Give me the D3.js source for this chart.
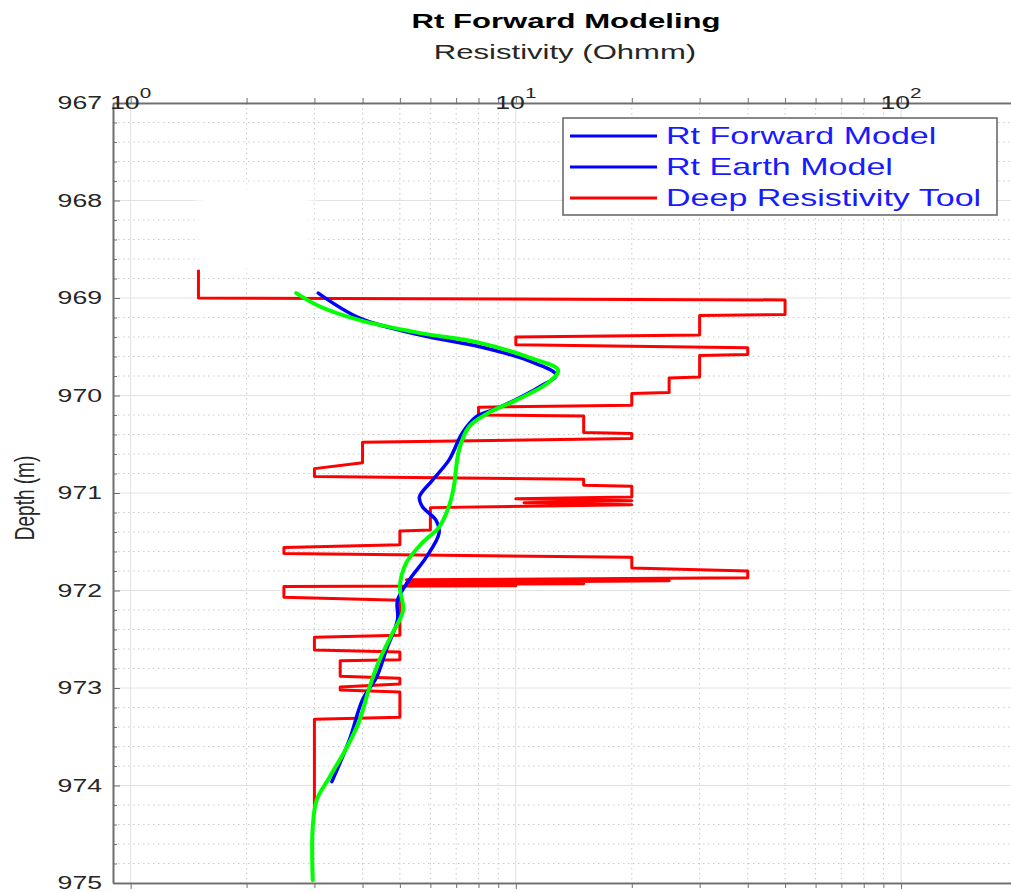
<!DOCTYPE html>
<html>
<head>
<meta charset="utf-8">
<script src="https://cdn.jsdelivr.net/npm/d3@7"></script>
<style>
  body { margin: 0; background: #fff; }
  text { font-family: "Liberation Sans", Arial, sans-serif; }
</style>
</head>
<body>
<svg id="chart" width="1011" height="892"></svg>
<script>
// axis ticks
const depthTicks = [967, 968, 969, 970, 971, 972, 973, 974, 975];
const decadeExps = [0, 1, 2];

// Rt Forward Model (green)
const fwdDepth = [968.95, 969.09, 969.23, 969.36, 969.46, 969.62, 969.74, 969.87, 970.05, 970.18, 970.32, 970.56, 970.94, 971.14, 971.35, 971.51, 971.72, 971.96, 972.20, 972.44, 972.71, 972.99, 973.33, 973.61, 973.91, 974.15, 974.43, 974.70, 974.97];
const fwdRt    = [2.69, 3.11, 3.95, 5.65, 8.07, 11.0, 12.88, 12.13, 10.0, 8.47, 7.56, 7.12, 6.9, 6.7, 6.32, 5.72, 5.19, 5.0, 5.1, 4.78, 4.43, 4.17, 3.93, 3.64, 3.29, 3.04, 2.97, 2.96, 2.97];

// Rt Earth Model (blue)
const earthDepth = [968.95, 969.21, 969.38, 969.50, 969.64, 969.79, 969.91, 970.12, 970.22, 970.39, 970.66, 970.87, 971.04, 971.14, 971.28, 971.41, 971.66, 971.89, 972.10, 972.30, 972.61, 972.89, 973.12, 973.53, 973.96];
const earthRt    = [3.07, 3.95, 5.65, 8.07, 10.74, 12.72, 11.53, 9.09, 7.88, 7.25, 6.71, 6.07, 5.62, 5.72, 6.21, 6.32, 5.85, 5.29, 4.93, 4.93, 4.61, 4.35, 4.0, 3.70, 3.33];

// Deep Resistivity Tool (red, stepped log)
const toolDepth = [968.71, 969.0, 969.02, 969.17, 969.18, 969.38, 969.40, 969.48, 969.51, 969.58, 969.59, 969.81, 969.82, 969.97, 969.98, 970.10, 970.12, 970.20, 970.21, 970.38, 970.39, 970.44, 970.48, 970.69, 970.75, 970.83, 970.86, 970.92, 970.93, 971.04, 971.06, 971.08, 971.10, 971.12, 971.15, 971.38, 971.39, 971.53, 971.56, 971.62, 971.66, 971.77, 971.80, 971.87, 971.89, 971.90, 971.92, 971.93, 971.94, 971.95, 971.96, 972.07, 972.10, 972.46, 972.48, 972.61, 972.63, 972.71, 972.72, 972.88, 972.90, 972.96, 972.99, 973.02, 973.04, 973.30, 973.32, 974.22];
const toolRt    = [1.5, 1.5, 50, 50, 30, 30, 10, 10, 40, 40, 30, 30, 25, 25, 20, 20, 8, 8, 15, 15, 20, 20, 4, 4, 3, 3, 15, 15, 20, 20, 10, 20, 10.5, 20, 6, 6, 5, 5, 2.5, 2.5, 20, 20, 40, 40, 5.2, 25, 5.2, 15, 5.2, 10, 2.5, 2.5, 5, 5, 3, 3, 5, 5, 3.5, 3.5, 5, 5, 3.5, 3.5, 5, 5, 3, 3];

const legendNames = ["Rt Forward Model", "Rt Earth Model", "Deep Resistivity Tool"];
const legendColors = ["#0000ff", "#0000ff", "#ff0000"];

const SX = 1.48; // the picture is stretched horizontally
const svg = d3.select("#chart");
const pLeft = 113, pRight = 1017, pTop = 103, pBottom = 883;

const x = d3.scaleLog().domain([0.9, 200]).range([pLeft, pRight]);
const y = d3.scaleLinear().domain([967, 975]).range([pTop, pBottom]);

function stext(g, tx, ty, str, size, anchor) {
  return g.append("text")
    .attr("transform", `translate(${tx},${ty}) scale(${SX},1)`)
    .attr("text-anchor", anchor || "middle")
    .attr("font-size", size)
    .attr("fill", "#262626")
    .text(str);
}

// Titles
stext(svg, 566, 28, "Rt Forward Modeling", 21).attr("font-weight", "bold").attr("fill", "#000");
stext(svg, 565, 59, "Resistivity (Ohmm)", 21);

// Grid
const minorX = [];
[1, 10, 100].forEach(d => { for (let k = 2; k <= 9; k++) if (d * k < 200) minorX.push(d * k); });
const minorY = [];
for (let d = 967; d < 975; d++) for (let k = 1; k <= 4; k++) minorY.push(+(d + k * 0.2).toFixed(1));

const grid = svg.append("g");
grid.selectAll(".mx").data(minorX).enter().append("line")
  .attr("x1", d => x(d)).attr("x2", d => x(d)).attr("y1", pTop).attr("y2", pBottom)
  .attr("stroke", "#c9c9c9").attr("stroke-dasharray", "1.5,3.5");
grid.selectAll(".my").data(minorY).enter().append("line")
  .attr("x1", pLeft).attr("x2", pRight).attr("y1", d => y(d)).attr("y2", d => y(d))
  .attr("stroke", "#c9c9c9").attr("stroke-dasharray", "1.5,3.5");
grid.selectAll(".Mx").data(decadeExps).enter().append("line")
  .attr("x1", d => x(Math.pow(10, d))).attr("x2", d => x(Math.pow(10, d)))
  .attr("y1", pTop).attr("y2", pBottom).attr("stroke", "#e2e2e2");
grid.selectAll(".My").data(depthTicks).enter().append("line")
  .attr("x1", pLeft).attr("x2", pRight).attr("y1", d => y(d)).attr("y2", d => y(d))
  .attr("stroke", "#e2e2e2");

// faded patch where the grid is missing in the source image
svg.append("defs").append("filter").attr("id", "soft")
  .append("feGaussianBlur").attr("stdDeviation", 5);
svg.append("rect")
  .attr("x", x(1.5)).attr("y", y(967.85))
  .attr("width", x(2.95) - x(1.5)).attr("height", y(968.72) - y(967.85))
  .attr("fill", "#fff").attr("filter", "url(#soft)");

// Axes
const axCol = "#6e6e6e";
function styleAxis(g) {
  g.selectAll("path,line").attr("stroke", axCol);
  g.select(".domain").attr("stroke-width", 1.6);
  g.selectAll("text").remove();
}
svg.append("g").attr("transform", `translate(${pLeft},0)`)
  .call(d3.axisLeft(y).tickValues(depthTicks).tickSize(-7).tickSizeOuter(0)).call(styleAxis);
svg.append("g").attr("transform", `translate(${pLeft},0)`)
  .call(d3.axisLeft(y).tickValues(minorY).tickSize(-4).tickSizeOuter(0)).call(styleAxis);
svg.append("g").attr("transform", `translate(0,${pTop})`)
  .call(d3.axisTop(x).tickValues(decadeExps.map(e => Math.pow(10, e))).tickSize(6).tickSizeOuter(0)).call(styleAxis);
svg.append("g").attr("transform", `translate(0,${pTop})`)
  .call(d3.axisTop(x).tickValues(minorX).tickSize(5).tickSizeOuter(0)).call(styleAxis);
svg.append("g").attr("transform", `translate(0,${pBottom})`)
  .call(d3.axisBottom(x).tickValues(decadeExps.map(e => Math.pow(10, e))).tickSize(6).tickSizeOuter(0)).call(styleAxis);
svg.append("g").attr("transform", `translate(0,${pBottom})`)
  .call(d3.axisBottom(x).tickValues(minorX).tickSize(5).tickSizeOuter(0)).call(styleAxis);

// Tick labels
depthTicks.forEach(d => {
  stext(svg, 102, y(d) + 6, d, 18, "end");
});
decadeExps.forEach(e => {
  const t = stext(svg, x(Math.pow(10, e)), pTop + 6, "", 18);
  t.append("tspan").text("10");
  t.append("tspan").attr("dy", -11).attr("font-size", 14).text(e);
});

// Y label
svg.append("text")
  .attr("transform", `translate(34,498) scale(${SX},1) rotate(-90)`)
  .attr("text-anchor", "middle").attr("font-size", 19).attr("fill", "#262626")
  .text("Depth (m)");

// Curves
svg.append("clipPath").attr("id", "plot").append("rect")
  .attr("x", pLeft).attr("y", pTop).attr("width", pRight - pLeft).attr("height", pBottom - pTop);
const plot = svg.append("g").attr("clip-path", "url(#plot)");

const stepLine = d3.line().x(d => x(d[1])).y(d => y(d[0]));
const smoothLine = d3.line().x(d => x(d[1])).y(d => y(d[0])).curve(d3.curveCatmullRom.alpha(0.5));

plot.append("path").datum(d3.zip(toolDepth, toolRt)).attr("d", stepLine)
  .attr("fill", "none").attr("stroke", "#ff0000").attr("stroke-width", 3).attr("stroke-linejoin", "round");
plot.append("path").datum(d3.zip(earthDepth, earthRt)).attr("d", smoothLine)
  .attr("fill", "none").attr("stroke", "#0000ff").attr("stroke-width", 3.5).attr("stroke-linecap", "round");
plot.append("path").datum(d3.zip(fwdDepth, fwdRt)).attr("d", smoothLine)
  .attr("fill", "none").attr("stroke", "#00ff00").attr("stroke-width", 4).attr("stroke-linecap", "round");

// Legend
const lg = svg.append("g");
lg.append("rect").attr("x", 563).attr("y", 118).attr("width", 434).attr("height", 97)
  .attr("fill", "#fff").attr("stroke", "#6b6b6b").attr("stroke-width", 1.6);
legendNames.forEach((name, i) => {
  const ry = 136 + i * 31;
  lg.append("line").attr("x1", 570).attr("x2", 657).attr("y1", ry).attr("y2", ry)
    .attr("stroke", legendColors[i]).attr("stroke-width", 3);
  stext(lg, 666, ry + 8, name, 23, "start").attr("fill", "#1a1aff");
});
</script>
</body>
</html>
